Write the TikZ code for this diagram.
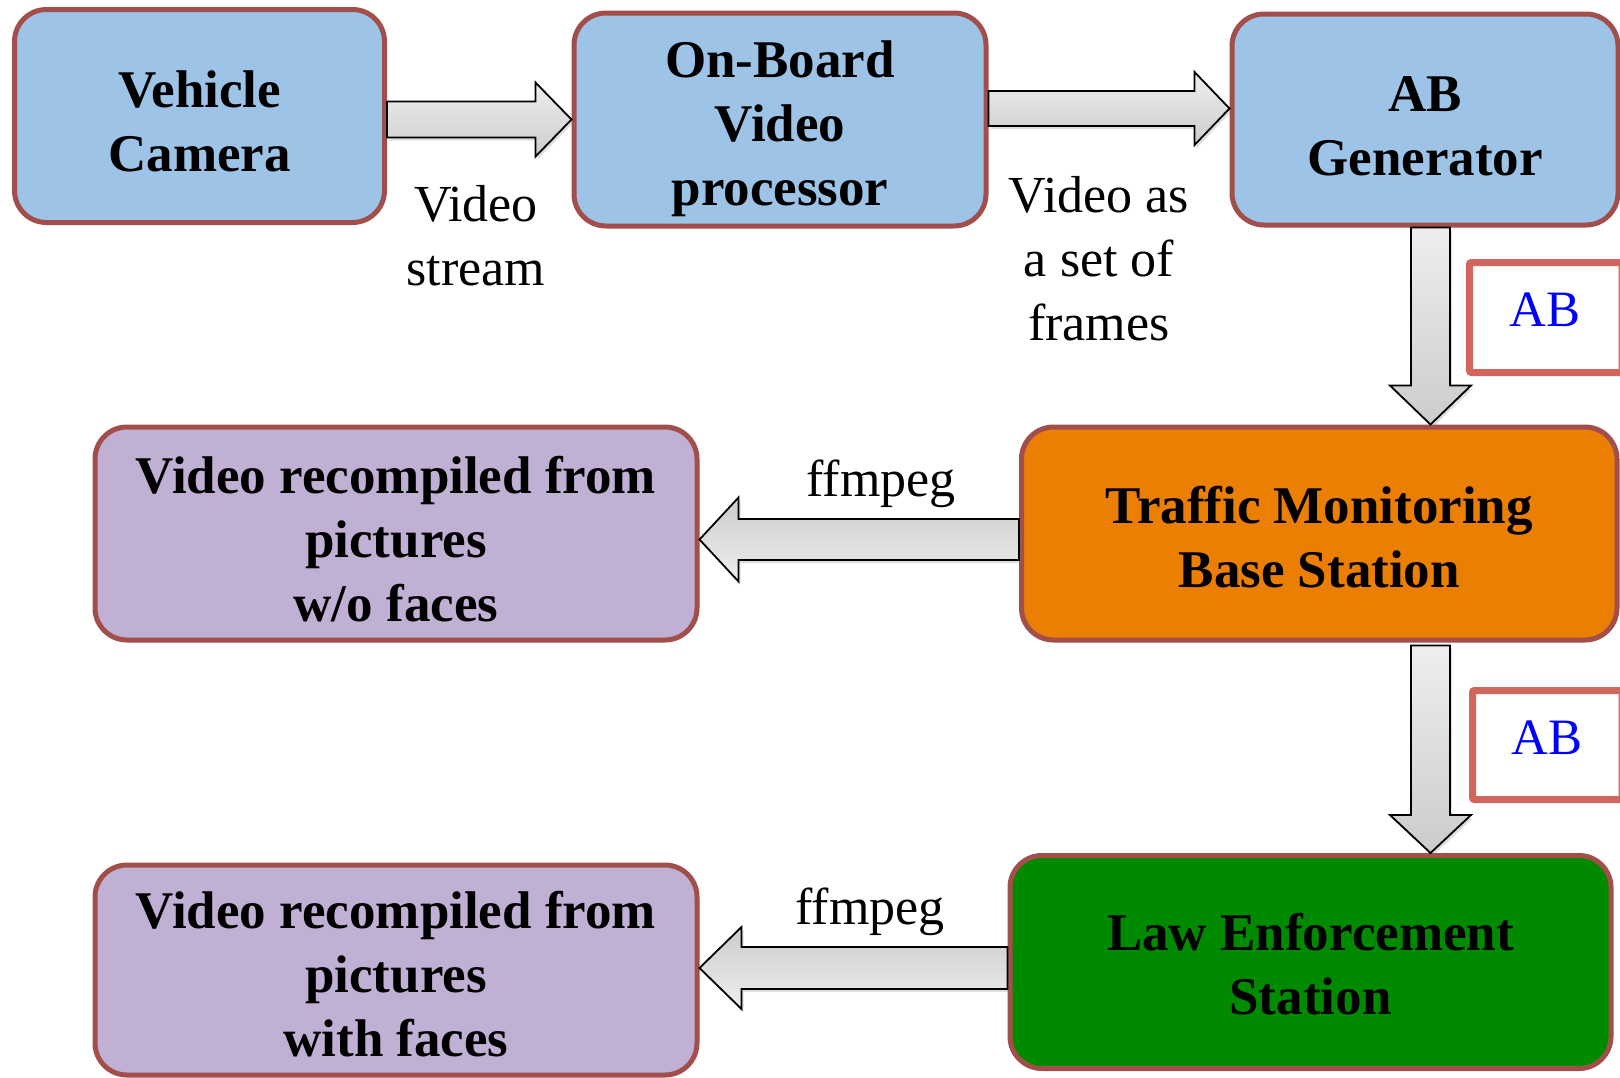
\documentclass[tikz,border=0pt]{standalone}
\usepackage{fontspec}
\setmainfont{Liberation Serif}
\usetikzlibrary{calc,shadows}
\definecolor{bord}{HTML}{A24E4A}
\definecolor{bluefill}{HTML}{9DC3E6}
\definecolor{orangefill}{HTML}{EA7F04}
\definecolor{greenfill}{HTML}{008A00}
\definecolor{purplefill}{HTML}{C0B1D4}
\definecolor{abbord}{HTML}{D1665F}
\definecolor{abtext}{HTML}{0000FF}
\definecolor{arrlight}{HTML}{EEEEEE}
\definecolor{arrdark}{HTML}{CCCCCC}
\newcommand{\topstrut}[1]{\rule{0pt}{#1pt}}
% #1 tail, #2 tip, #3 shaft half width, #4 head half width, #5 head length, #6 extra style
\newcommand{\blockarrow}[6]{%
  \coordinate (ba-h) at ($(#2)!#5!(#1)$);
  \draw[blockarr,#6] ($(#1)!#3!90:(#2)$) -- ($(ba-h)!#3!90:(#2)$) -- ($(ba-h)!#4!90:(#2)$)
    -- (#2) -- ($(ba-h)!#4!-90:(#2)$) -- ($(ba-h)!#3!-90:(#2)$) -- ($(#1)!#3!-90:(#2)$) -- cycle;}
\begin{document}
\begin{tikzpicture}[x=1pt,y=-1pt,
  box/.style={draw=bord, line width=5pt, rounded corners=32pt, align=center,
    inner sep=0pt, font=\fontsize{53}{64}\selectfont\bfseries},
  lbl/.style={align=center, inner sep=0pt, font=\fontsize{52}{64}\selectfont},
  abbox/.style={draw=abbord, line width=7pt, rounded corners=2pt, fill=white},
  abtxt/.style={text=abtext, inner sep=0pt, font=\fontsize{51}{60}\selectfont},
  blockarr/.style={draw=black, line width=1.8pt, line join=miter,
    drop shadow={shadow xshift=2pt, shadow yshift=-3pt, opacity=0.25}},
  hgrad/.style={top color=arrlight, bottom color=arrdark},
  hgradrev/.style={top color=arrdark, bottom color=arrlight}
]
\useasboundingbox (0,0) rectangle (1620,1077);
\fill[white] (0,0) rectangle (1620,1077);

% boxes
\node[box, fill=bluefill, minimum width=370pt, minimum height=213pt] (vc) at (199.5,116) {\topstrut{47}Vehicle\\Camera};
\node[box, fill=bluefill, minimum width=412pt, minimum height=213pt] (ob) at (780,119.5) {\topstrut{56}On-Board\\Video\\processor};
\node[box, fill=bluefill, minimum width=386pt, minimum height=211pt] (abg) at (1425,119.5) {\topstrut{48}AB\\Generator};
\node[box, fill=orangefill, minimum width=595.5pt, minimum height=213pt] (tm) at (1319.25,533.5) {\topstrut{44}Traffic Monitoring\\Base Station};
\node[box, fill=purplefill, minimum width=602pt, minimum height=213pt] (vr1) at (396,533.5) {\topstrut{48}Video recompiled from\\pictures\\w/o faces};
\node[box, fill=greenfill, minimum width=601pt, minimum height=213pt] (le) at (1310.5,962) {\topstrut{41}Law Enforcement\\Station};
\node[box, fill=purplefill, minimum width=602pt, minimum height=210pt] (vr2) at (396,970) {\topstrut{46}Video recompiled from\\pictures\\with faces};

% AB boxes
\draw[abbox] (1469.5,262.5) rectangle (1622,372.5);
\node[abtxt] (ab1) at (1545,310) {AB};
\draw[abbox] (1472.5,690.5) rectangle (1622,799.5);
\node[abtxt] (ab2) at (1547,738) {AB};

% arrows
\coordinate (a1t) at (vc.east |- ob.west);
\blockarrow{a1t}{ob.west}{18pt}{37pt}{36pt}{hgrad}

\coordinate (a2t) at ($(ob.east)+(0,-11)$);
\coordinate (a2h) at (abg.west |- a2t);
\blockarrow{a2t}{a2h}{17.5pt}{36.5pt}{35pt}{hgrad}

\coordinate (a3t) at ($(abg.south)+(5.5,0)$);
\coordinate (a3h) at (a3t |- tm.north);
\blockarrow{a3t}{a3h}{19.5pt}{40.5pt}{39pt}{hgrad}

\coordinate (a4t) at ($(tm.west)+(0,6)$);
\coordinate (a4h) at (vr1.east |- a4t);
\blockarrow{a4t}{a4h}{20.5pt}{42pt}{39pt}{hgradrev}

\coordinate (a5t) at ($(a3t |- tm.south)+(0,3)$);
\coordinate (a5h) at (a3t |- le.north);
\blockarrow{a5t}{a5h}{19.5pt}{40.5pt}{38pt}{hgrad}

\coordinate (a6t) at ($(le.west)+(0,6)$);
\coordinate (a6h) at (vr2.east |- a6t);
\blockarrow{a6t}{a6h}{21pt}{41pt}{42pt}{hgradrev}

% labels
\node[lbl] (l1) at (476,236) {Video\\stream};
\node[lbl] (l2) at (1099,259) {Video as\\a set of\\frames};
\node[lbl] (l3) at (881,484) {ffmpeg};
\node[lbl] (l4) at (870,912) {ffmpeg};
\end{tikzpicture}
\end{document}
